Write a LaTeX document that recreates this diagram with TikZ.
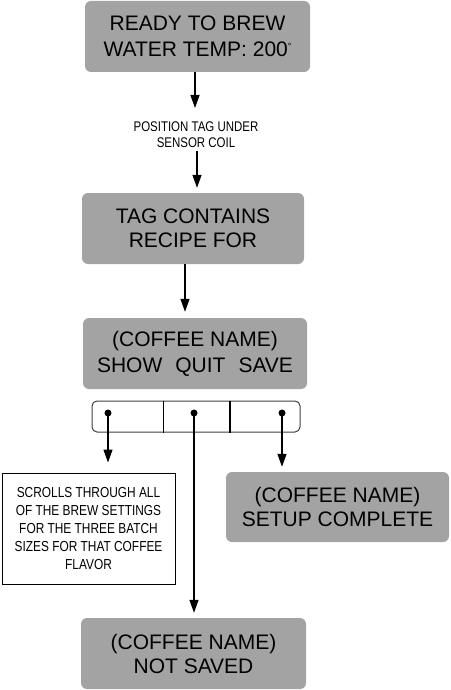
\documentclass[tikz,border=0pt]{standalone}
\usepackage{fontspec}
\setmainfont{Liberation Sans}
\newfontfamily\condfont[FakeStretch=0.82]{Liberation Sans}
\usetikzlibrary{arrows.meta}
\definecolor{boxgray}{RGB}{163,163,163}
\begin{document}
\begin{tikzpicture}[x=1pt,y=-1pt,
  gbox/.style={fill=boxgray, rounded corners=6pt, align=center, inner sep=0pt,
    minimum width=224pt, minimum height=71pt,
    font=\fontsize{21pt}{24pt}\selectfont},
  arr/.style={-{Triangle[length=13pt,width=9pt]}, line width=1.3pt},
  dot/.style={circle, fill=black, inner sep=0pt, minimum size=7pt},
  condtext/.style={align=center, font=\condfont\fontsize{14pt}{16pt}\selectfont}]
\useasboundingbox (0,0) rectangle (450,690);
% gray boxes
\node[gbox, minimum width=225pt, font=\fontsize{21pt}{26.5pt}\selectfont] (b1) at (197.5,36.5)
  {READY TO BREW\\WATER TEMP: 200\raisebox{0.35em}{\fontsize{9pt}{9pt}\selectfont °}};
\node[condtext] (lbl) at (196,135) {POSITION TAG UNDER\\SENSOR COIL};
\node[gbox, minimum width=222pt] (b2) at (193,228.5) {TAG CONTAINS\\RECIPE FOR};
\node[gbox, minimum width=224pt, font=\fontsize{21pt}{26pt}\selectfont] (b3) at (195,353.5)
  {(COFFEE NAME)\\SHOW\hspace{13pt}QUIT\hspace{13pt}SAVE};
% button bar
\node[draw=black!75, fill=white, rounded corners=5pt, line width=1pt,
  minimum width=208pt, minimum height=31pt, inner sep=0pt] (bar) at (196,416.5) {};
\draw[line width=1pt] ([xshift=-33pt]bar.north) -- ([xshift=-33pt]bar.south);
\draw[line width=2pt] ([xshift=34pt]bar.north) -- ([xshift=34pt]bar.south);
\node[dot] (d1) at (108,413) {};
\node[dot] (d2) at (194,413) {};
\node[dot] (d3) at (282,413) {};
% result boxes
\node[draw, line width=1pt, minimum width=173pt, minimum height=111pt, inner sep=0pt,
  align=center, font=\condfont\fontsize{14.5pt}{17.8pt}\selectfont] (lb) at (88.5,528.5)
  {SCROLLS THROUGH ALL\\OF THE BREW SETTINGS\\FOR THE THREE BATCH\\SIZES FOR THAT COFFEE\\FLAVOR};
\node[gbox, minimum width=223pt, minimum height=70pt] (rb) at (337.5,507) {(COFFEE NAME)\\SETUP COMPLETE};
\node[gbox, minimum width=225pt] (bb) at (193.5,653.5) {(COFFEE NAME)\\NOT SAVED};
% connectors
\coordinate (t1) at (195,108);
\draw[arr] (b1.south -| t1) -- (t1);
\coordinate (x2) at (197,0);
\draw[arr, shorten >=5pt] (lbl.south -| x2) -- (b2.north -| x2);
\coordinate (x3) at (185,0);
\draw[arr, shorten >=6pt] (b2.south -| x3) -- (b3.north -| x3);
\draw[arr, shorten >=10pt] (d1.center) -- (lb.north -| d1);
\draw[arr, shorten >=5pt] (d2.center) -- (bb.north -| d2);
\draw[arr, shorten >=5pt] (d3.center) -- (rb.north -| d3);
\end{tikzpicture}
\end{document}
